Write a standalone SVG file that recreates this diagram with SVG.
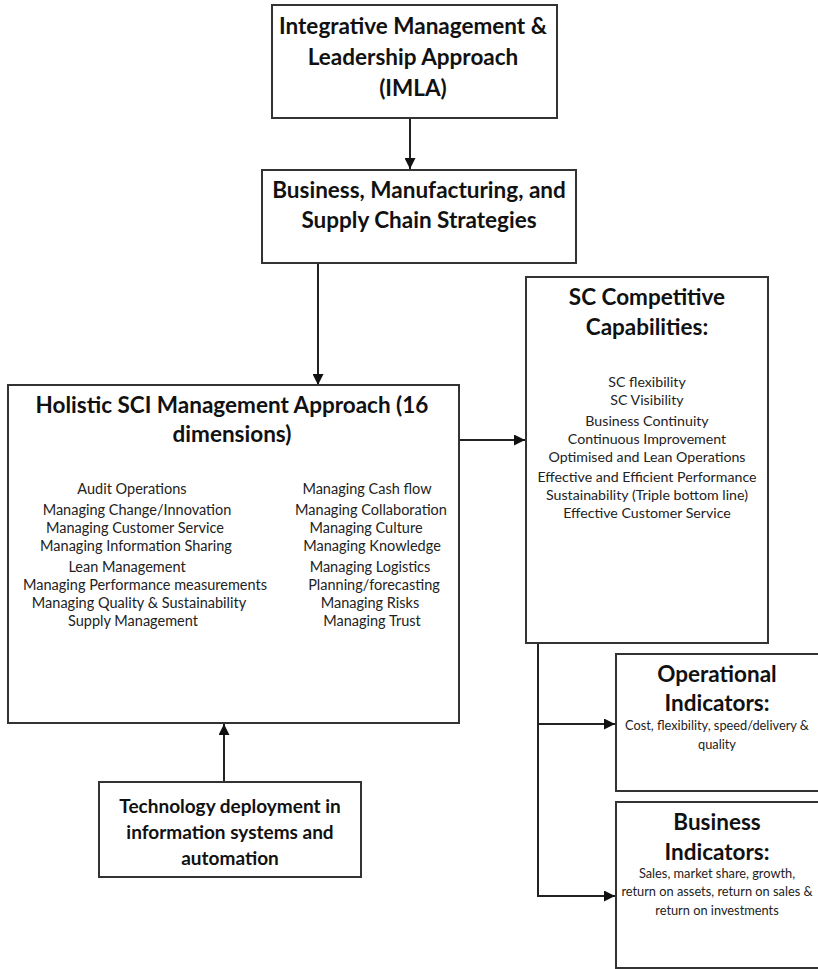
<svg xmlns="http://www.w3.org/2000/svg" width="818" height="969" viewBox="0 0 818 969">
<defs>
<marker id="ah" viewBox="0 0 10 10" refX="10" refY="5" markerWidth="11" markerHeight="11" markerUnits="userSpaceOnUse" orient="auto">
<path d="M0,0 L10,5 L0,10 z" fill="#111"/>
</marker>
<style>
.box{fill:#fff;stroke:#333;stroke-width:2}
.t{font-family:Lato,"Liberation Sans",sans-serif;font-weight:bold;font-size:22.5px;fill:#111;text-anchor:middle}
.s{font-family:Lato,"Liberation Sans",sans-serif;font-size:14.5px;fill:#222;text-anchor:middle}
.sc{font-family:Lato,"Liberation Sans",sans-serif;font-size:14.2px;fill:#222;text-anchor:middle}
.x{font-family:Lato,"Liberation Sans",sans-serif;font-size:12.8px;fill:#222;text-anchor:middle}
.c{stroke:#222;stroke-width:2;fill:none}
</style>
</defs>
<rect width="818" height="969" fill="#fff"/>
<g id="connectors">
<line class="c" x1="410" y1="118" x2="410" y2="169" marker-end="url(#ah)"/>
<line class="c" x1="318" y1="263" x2="318" y2="385" marker-end="url(#ah)"/>
<line class="c" x1="459" y1="440" x2="525" y2="440" marker-end="url(#ah)"/>
<line class="c" x1="224" y1="782" x2="224" y2="724" marker-end="url(#ah)"/>
<polyline class="c" points="538,643 538,896"/>
<line class="c" x1="537" y1="724" x2="615" y2="724" marker-end="url(#ah)"/>
<line class="c" x1="537" y1="896" x2="615" y2="896" marker-end="url(#ah)"/>
</g>
<g id="imla">
<rect class="box" x="272" y="5" width="285" height="113"/>
<text class="t" x="413" y="34">Integrative Management &amp;</text>
<text class="t" x="413" y="65">Leadership Approach</text>
<text class="t" x="413" y="96">(IMLA)</text>
</g>
<g id="strategies">
<rect class="box" x="262" y="170" width="314" height="93"/>
<text class="t" x="419" y="198">Business, Manufacturing, and</text>
<text class="t" x="419" y="228">Supply Chain Strategies</text>
</g>
<g id="holistic">
<rect class="box" x="8" y="385" width="451" height="338"/>
<text class="t" x="232" y="413">Holistic SCI Management Approach (16</text>
<text class="t" x="232" y="442">dimensions)</text>
<g class="s">
<text x="132" y="494">Audit Operations</text>
<text x="137" y="515">Managing Change/Innovation</text>
<text x="135" y="533">Managing Customer Service</text>
<text x="136" y="551">Managing Information Sharing</text>
<text x="127" y="572">Lean Management</text>
<text x="145" y="590">Managing Performance measurements</text>
<text x="139" y="608">Managing Quality &amp; Sustainability</text>
<text x="133" y="626">Supply Management</text>
<text x="367" y="494">Managing Cash flow</text>
<text x="371" y="515">Managing Collaboration</text>
<text x="366" y="533">Managing Culture</text>
<text x="372" y="551">Managing Knowledge</text>
<text x="370" y="572">Managing Logistics</text>
<text x="374" y="590">Planning/forecasting</text>
<text x="370" y="608">Managing Risks</text>
<text x="372" y="626">Managing Trust</text>
</g>
</g>
<g id="capabilities">
<rect class="box" x="526" y="277" width="242" height="366"/>
<text class="t" x="647" y="305">SC Competitive</text>
<text class="t" x="647" y="335">Capabilities:</text>
<g class="sc">
<text x="647" y="387">SC flexibility</text>
<text x="647" y="405">SC Visibility</text>
<text x="647" y="426">Business Continuity</text>
<text x="647" y="444">Continuous Improvement</text>
<text x="647" y="462">Optimised and Lean Operations</text>
<text x="647" y="482">Effective and Efficient Performance</text>
<text x="647" y="500">Sustainability (Triple bottom line)</text>
<text x="647" y="518">Effective Customer Service</text>
</g>
</g>
<g id="operational">
<rect class="box" x="616" y="654" width="210" height="137"/>
<text class="t" x="717" y="682">Operational</text>
<text class="t" x="717" y="711">Indicators:</text>
<text class="x" x="717" y="730">Cost, flexibility, speed/delivery &amp;</text>
<text class="x" x="717" y="749">quality</text>
</g>
<g id="business">
<rect class="box" x="616" y="802" width="210" height="166"/>
<text class="t" x="717" y="830">Business</text>
<text class="t" x="717" y="860">Indicators:</text>
<text class="x" x="717" y="878">Sales, market share, growth,</text>
<text class="x" x="717" y="896">return on assets, return on sales &amp;</text>
<text class="x" x="717" y="915">return on investments</text>
</g>
<g id="technology">
<rect class="box" x="99" y="782" width="262" height="95"/>
<text class="t" x="230" y="813" style="font-size:19px">Technology deployment in</text>
<text class="t" x="230" y="839" style="font-size:19px">information systems and</text>
<text class="t" x="230" y="865" style="font-size:19px">automation</text>
</g>
</svg>
